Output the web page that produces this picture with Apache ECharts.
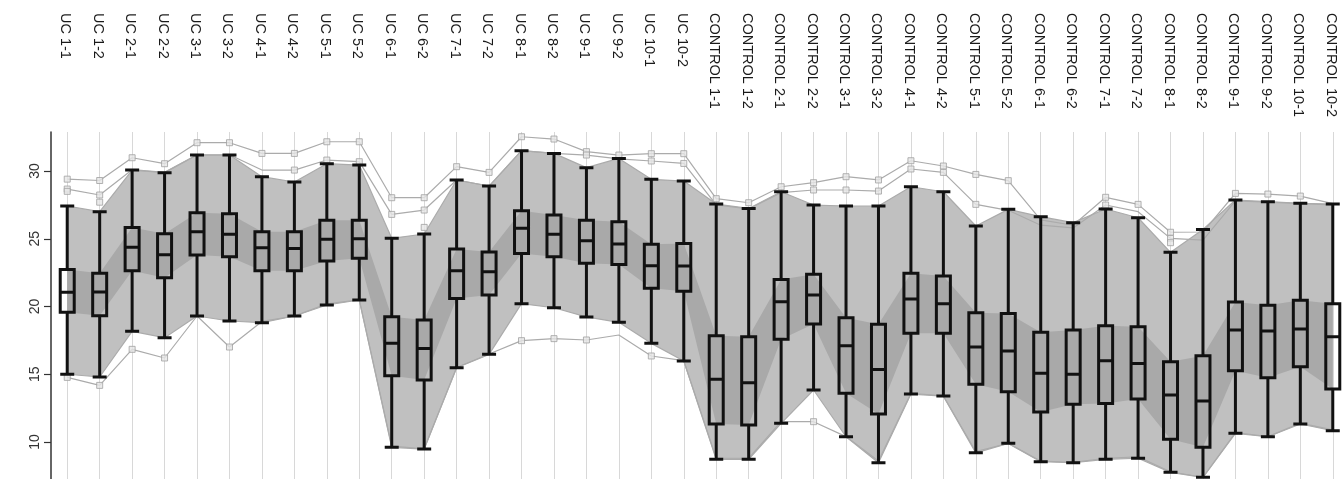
<!DOCTYPE html>
<html>
<head>
<meta charset="utf-8">
<script src="https://cdn.jsdelivr.net/npm/echarts@6/dist/echarts.min.js"></script>
<style>
  html, body { margin: 0; padding: 0; background: #ffffff; }
  #chart { width: 1342px; height: 479px; }
</style>
</head>
<body>
<div id="chart"></div>
<script>
// Sample groups along the horizontal axis
const categories = [
  'UC 1-1', 'UC 1-2', 'UC 2-1', 'UC 2-2', 'UC 3-1', 'UC 3-2', 'UC 4-1', 'UC 4-2',
  'UC 5-1', 'UC 5-2', 'UC 6-1', 'UC 6-2', 'UC 7-1', 'UC 7-2', 'UC 8-1', 'UC 8-2',
  'UC 9-1', 'UC 9-2', 'UC 10-1', 'UC 10-2',
  'CONTROL 1-1', 'CONTROL 1-2', 'CONTROL 2-1', 'CONTROL 2-2', 'CONTROL 3-1', 'CONTROL 3-2',
  'CONTROL 4-1', 'CONTROL 4-2', 'CONTROL 5-1', 'CONTROL 5-2', 'CONTROL 6-1', 'CONTROL 6-2',
  'CONTROL 7-1', 'CONTROL 7-2', 'CONTROL 8-1', 'CONTROL 8-2', 'CONTROL 9-1', 'CONTROL 9-2',
  'CONTROL 10-1', 'CONTROL 10-2'
];

// Box statistics per group
const whiskerLow = [
  15.0, 14.8, 18.17, 17.70, 19.30, 18.93, 18.81, 19.30, 20.11, 20.48,
  9.61, 9.48, 15.48, 16.47, 20.21, 19.91, 19.23, 18.83, 17.28, 15.98,
  8.72, 8.72, 11.38, 13.84, 10.39, 8.47, 13.54, 13.39, 9.2, 9.9,
  8.55, 8.47, 8.72, 8.8, 7.76, 7.39, 10.64, 10.39, 11.33, 10.84
];
const q1 = [
  19.57, 19.32, 22.64, 22.13, 23.80, 23.68, 22.64, 22.64, 23.36, 23.56,
  14.89, 14.58, 20.6, 20.85, 23.92, 23.68, 23.19, 23.11, 21.34, 21.12,
  11.33, 11.25, 17.58, 18.71, 13.59, 12.07, 18.02, 18.02, 14.26, 13.71,
  12.21, 12.78, 12.85, 13.17, 10.2, 9.61, 15.26, 14.75, 15.56, 13.91
];
const median = [
  21.05, 21.07, 24.37, 23.82, 25.52, 25.33, 24.34, 24.29, 24.96, 25.0,
  17.28, 16.91, 22.64, 22.57, 25.77, 25.33, 24.86, 24.61, 23.01, 22.99,
  14.63, 14.38, 20.35, 20.85, 17.1, 15.36, 20.55, 20.21, 17.01, 16.72,
  15.07, 15.0, 16.0, 15.8, 13.47, 13.03, 18.27, 18.19, 18.34, 17.77
];
const q3 = [
  22.74, 22.45, 25.84, 25.37, 26.92, 26.85, 25.52, 25.52, 26.36, 26.36,
  19.25, 19.0, 24.24, 24.02, 27.07, 26.75, 26.36, 26.26, 24.59, 24.66,
  17.85, 17.77, 22.0, 22.38, 19.17, 18.69, 22.45, 22.25, 19.54, 19.49,
  18.1, 18.27, 18.58, 18.51, 15.93, 16.37, 20.33, 20.09, 20.46, 20.21
];
const whiskerHigh = [
  27.42, 27.0, 30.07, 29.88, 31.18, 31.18, 29.58, 29.19, 30.54, 30.44,
  25.03, 25.35, 29.34, 28.89, 31.5, 31.3, 30.25, 30.93, 29.39, 29.26,
  27.56, 27.24, 28.47, 27.49, 27.42, 27.42, 28.84, 28.47, 25.94, 27.17,
  26.63, 26.19, 27.2, 26.55, 24.0, 25.69, 27.86, 27.74, 27.62, 27.56
];

// Individual profiles running along the extremes
const profileTop = [
  29.4, 29.3, 30.98, 30.54, 32.09, 32.09, 31.3, 31.3, 32.16, 32.16,
  28.03, 28.03, 30.32, 29.9, 32.53, 32.36, 31.43, 31.18, 31.28, 31.28,
  27.96, 27.66, 28.84, 29.14, 29.58, 29.34, 30.76, 30.37, 29.75, 29.29,
  26.4, 26.0, 28.06, 27.54, 25.48, 25.5, 28.35, 28.3, 28.15, 27.6
];
const profileUpper = [
  28.67, 28.23, 30.1, 29.9, 31.2, 31.2, 30.07, 30.07, 30.81, 30.69,
  26.8, 27.12, 29.34, 28.89, 31.5, 31.3, 31.18, 30.9, 30.74, 30.56,
  27.5, 27.2, 28.4, 28.6, 28.6, 28.52, 30.15, 29.9, 27.54, 27.1,
  26.0, 25.8, 27.49, 27.0, 25.03, 24.9, 27.8, 27.7, 27.6, 27.5
];
const profileBottom = [
  14.77, 14.18, 16.84, 16.2, 19.3, 17.01, 18.9, 19.3, 20.2, 20.5,
  9.7, 9.5, 15.5, 16.5, 17.48, 17.63, 17.53, 17.9, 16.35, 16.0,
  8.8, 8.8, 11.5, 11.5, 10.4, 8.6, 13.6, 13.4, 9.3, 9.9,
  8.6, 8.5, 8.8, 8.9, 7.8, 7.4, 10.7, 10.4, 11.4, 10.9
];

// Outlying points: [group index, value]
const outliers = [
  [0, 29.4], [0, 28.67], [0, 28.5], [0, 14.77],
  [1, 29.3], [1, 28.23], [1, 27.7], [1, 14.18],
  [2, 30.98], [2, 16.84], [3, 30.54], [3, 16.2],
  [4, 32.09], [5, 32.09], [5, 17.01],
  [6, 31.3], [7, 31.3], [7, 30.07],
  [8, 32.16], [8, 30.81], [9, 32.16], [9, 30.69],
  [10, 28.03], [10, 26.8], [11, 28.03], [11, 27.12], [11, 25.84],
  [12, 30.32], [13, 29.9],
  [14, 32.53], [14, 17.48], [15, 32.36], [15, 17.63],
  [16, 31.43], [16, 31.18], [16, 17.53], [17, 31.18],
  [18, 31.28], [18, 30.74], [18, 16.35], [19, 31.28], [19, 30.56],
  [20, 27.96], [21, 27.66], [22, 28.84],
  [23, 29.14], [23, 28.6], [23, 11.5],
  [24, 29.58], [24, 28.6], [25, 29.34], [25, 28.52],
  [26, 30.76], [26, 30.15], [27, 30.37], [27, 29.9],
  [28, 29.75], [28, 27.54], [29, 29.29],
  [32, 28.06], [32, 27.49], [33, 27.54],
  [34, 25.48], [34, 25.03], [34, 24.71],
  [36, 28.35], [37, 28.3], [38, 28.15]
];

const yTicks = [10, 15, 20, 25, 30];

const boxData = categories.map((_, i) => [whiskerLow[i], q1[i], median[i], q3[i], whiskerHigh[i]]);
const outerSpan = whiskerHigh.map((v, i) => v - whiskerLow[i]);
const innerSpan = q3.map((v, i) => v - q1[i]);

const lineGray = '#ababab';

function bandBase(data, stack, z, extra) {
  return Object.assign({
    type: 'line', data: data, stack: stack, symbol: 'none', silent: true, z: z,
    lineStyle: { opacity: 0 }, animation: false
  }, extra || {});
}
function bandFill(data, stack, color, z) {
  return {
    type: 'line', data: data, stack: stack, symbol: 'none', silent: true, z: z,
    lineStyle: { opacity: 0 }, areaStyle: { color: color, opacity: 1 }, animation: false
  };
}
function profile(data) {
  return {
    type: 'line', data: data, symbol: 'none', silent: true, z: 4,
    lineStyle: { color: lineGray, width: 1.2 }, animation: false
  };
}

const chart = echarts.init(document.getElementById('chart'), null, { renderer: 'canvas' });

chart.setOption({
  animation: false,
  backgroundColor: '#ffffff',
  grid: { left: 51, top: 132, width: 1298, bottom: 0, outerBoundsMode: 'none', containLabel: false },
  xAxis: {
    type: 'category',
    data: categories,
    position: 'top',
    boundaryGap: true,
    axisLine: { show: false },
    axisTick: { show: false },
    splitLine: { show: false },
    axisLabel: {
      interval: 0,
      rotate: 90,
      margin: 9,
      hideOverlap: false,
      formatter: '{a|{value}}',
      rich: {
        a: {
          width: 110,
          align: 'left',
          padding: [4, 0, 0, 0],
          fontFamily: 'Liberation Sans, Arial, sans-serif',
          fontSize: 14.5,
          color: '#1a1a1a'
        }
      }
    }
  },
  yAxis: {
    type: 'value',
    min: 7.27,
    max: 32.88,
    axisLine: { show: true, lineStyle: { color: '#333333', width: 1.5 } },
    axisTick: { show: true, length: 7, customValues: yTicks, lineStyle: { color: '#333333', width: 1.2 } },
    axisLabel: {
      customValues: yTicks,
      rotate: 90,
      margin: 9,
      fontFamily: 'Liberation Sans, Arial, sans-serif',
      fontSize: 14,
      color: '#333333'
    },
    splitLine: { show: false }
  },
  series: [
    bandBase(whiskerLow, 'outer', 2, {
      markLine: {
        silent: true,
        symbol: 'none',
        z: 1,
        label: { show: false },
        lineStyle: { color: '#d8d8d8', width: 1, type: 'solid' },
        data: categories.map((_, i) => ({ xAxis: i }))
      }
    }),
    bandFill(outerSpan, 'outer', 'rgba(150,150,150,0.6)', 2),
    bandBase(q1, 'inner', 3),
    bandFill(innerSpan, 'inner', '#a9a9a9', 3),
    profile(whiskerHigh),
    profile(whiskerLow),
    profile(profileTop),
    profile(profileUpper),
    profile(profileBottom),
    {
      type: 'scatter',
      data: outliers,
      symbol: 'rect',
      symbolSize: 6,
      z: 5,
      silent: true,
      itemStyle: { color: '#e6e6e6', borderColor: '#a0a0a0', borderWidth: 1 }
    },
    {
      type: 'boxplot',
      data: boxData,
      boxWidth: [14, 14],
      z: 6,
      silent: true,
      itemStyle: { color: 'rgba(0,0,0,0)', borderColor: '#111111', borderWidth: 3 }
    }
  ]
});
</script>
</body>
</html>
